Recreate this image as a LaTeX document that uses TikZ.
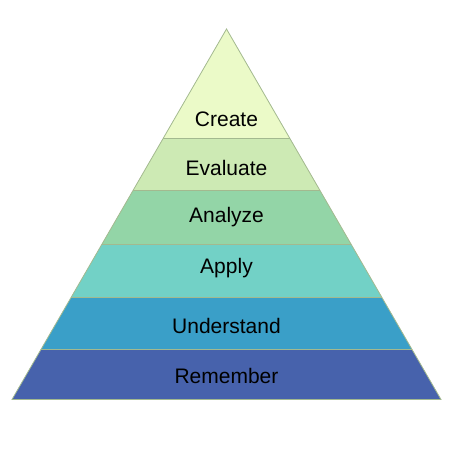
\documentclass[tikz,border=0pt]{standalone}
\usepackage{fontspec}
\setmainfont{Liberation Sans}
\usetikzlibrary{calc}
\definecolor{cCreate}{HTML}{EBFAC8}
\definecolor{cEval}{HTML}{CDEAB4}
\definecolor{cAnal}{HTML}{93D5A7}
\definecolor{cApply}{HTML}{72D1C6}
\definecolor{cUnder}{HTML}{3A9FC8}
\definecolor{cRem}{HTML}{4762AC}
\definecolor{edge}{HTML}{A3B98F}
\tikzset{band/.style={draw=edge,line width=0.8pt,line join=miter},
  lbl/.style={font=\fontsize{21}{24}\selectfont,text=black,anchor=center,inner sep=0pt}}
\begin{document}
\begin{tikzpicture}[x=1pt,y=-1pt]
\useasboundingbox (0,0) rectangle (453,453);
\coordinate (A) at (226.5,29);
\coordinate (BL) at (12,399.5);
\coordinate (BR) at (441,399.5);
% boundary levels t=(y-29)/370.5
\foreach \n/\y in {1/138.5,2/190.5,3/244,4/297,5/349.5,6/399.5}{
  \pgfmathsetmacro\t{(\y-29)/370.5}
  \coordinate (L\n) at ($(A)!\t!(BL)$);
  \coordinate (R\n) at ($(A)!\t!(BR)$);
}
\fill[cCreate] (A) -- (L1) -- (R1) -- cycle;
\fill[cEval] (L1) -- (L2) -- (R2) -- (R1) -- cycle;
\fill[cAnal] (L2) -- (L3) -- (R3) -- (R2) -- cycle;
\fill[cApply] (L3) -- (L4) -- (R4) -- (R3) -- cycle;
\fill[cUnder] (L4) -- (L5) -- (R5) -- (R4) -- cycle;
\fill[cRem] (L5) -- (L6) -- (R6) -- (R5) -- cycle;
\draw[band] (A) -- (L6) -- (R6) -- cycle;
\foreach \n in {1,...,5}{\draw[band] (L\n) -- (R\n);}
\node[lbl] (create) at (226.5,119) {Create};
\node[lbl] (evaluate) at (226.5,168) {Evaluate};
\node[lbl] (analyze) at (226.5,217) {Analyze};
\node[lbl] (apply) at (226.5,268) {Apply};
\node[lbl] (understand) at (226.5,326) {Understand};
\node[lbl] (remember) at (226.5,376) {Remember};
\end{tikzpicture}
\end{document}
